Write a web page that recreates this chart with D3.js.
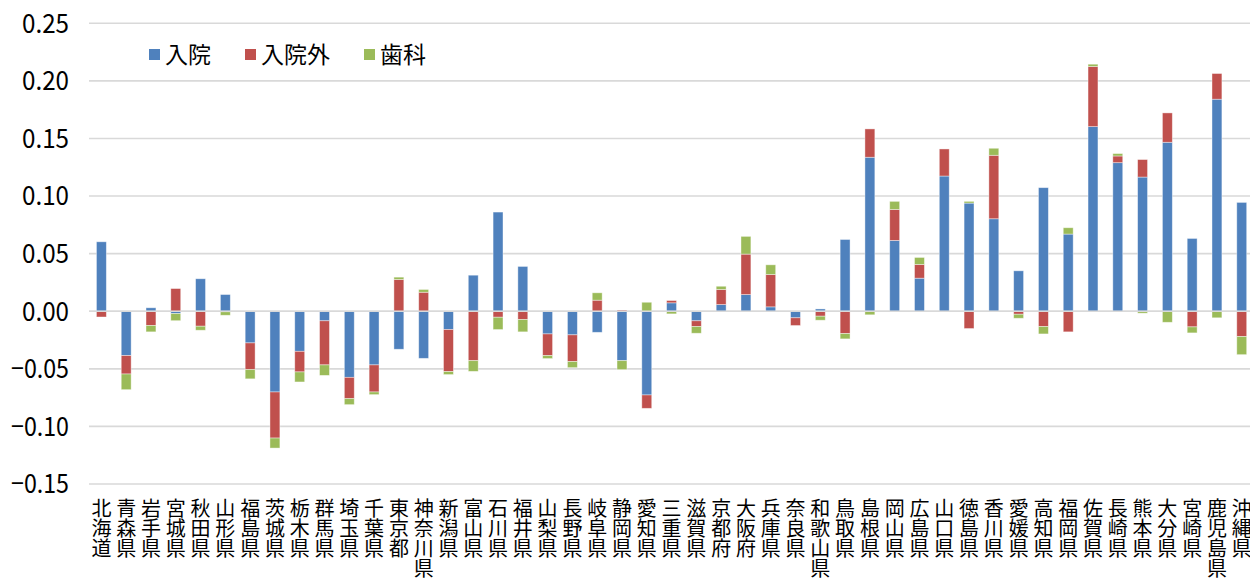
<!DOCTYPE html>
<html><head><meta charset="utf-8">
<script src="https://cdn.jsdelivr.net/npm/d3@7"></script>
<style>
html,body{margin:0;padding:0;background:#fff;overflow:hidden;}
svg{display:block;font-family:"Noto Sans CJK JP","Noto Sans",sans-serif;}
</style></head><body>
<svg id="chart" width="1250" height="579"></svg>
<script>
const prefectures = ["北海道","青森県","岩手県","宮城県","秋田県","山形県","福島県","茨城県","栃木県","群馬県","埼玉県","千葉県","東京都","神奈川県","新潟県","富山県","石川県","福井県","山梨県","長野県","岐阜県","静岡県","愛知県","三重県","滋賀県","京都府","大阪府","兵庫県","奈良県","和歌山県","鳥取県","島根県","岡山県","広島県","山口県","徳島県","香川県","愛媛県","高知県","福岡県","佐賀県","長崎県","熊本県","大分県","宮崎県","鹿児島県","沖縄県"];
const seriesNames = ["入院","入院外","歯科"];
const inpatient = [0.0603,-0.0385,0.003,-0.002,0.0282,0.0145,-0.0275,-0.0701,-0.0348,-0.0083,-0.0574,-0.0466,-0.033,-0.0409,-0.0159,0.0313,0.0861,0.0389,-0.0197,-0.0205,-0.0183,-0.0429,-0.0727,0.0073,-0.0083,0.0058,0.0145,0.0038,-0.0057,0.002,0.0623,0.1337,0.0615,0.0287,0.1174,0.0939,0.0803,0.0351,0.1073,0.067,0.1603,0.129,0.1165,0.1467,0.0632,0.1841,0.0945];
const outpatient = [-0.005,-0.016,-0.0124,0.0197,-0.013,-0.0005,-0.0232,-0.04,-0.0179,-0.0383,-0.0185,-0.0235,0.0276,0.0165,-0.0365,-0.0429,-0.0052,-0.0072,-0.0188,-0.0232,0.0096,0.001,-0.0116,0.002,-0.005,0.0131,0.0351,0.0281,-0.0067,-0.0043,-0.0194,0.0246,0.0269,0.0119,0.0235,-0.015,0.0551,-0.0026,-0.0133,-0.0179,0.0522,0.0058,0.0152,0.0255,-0.0136,0.0223,-0.022];
const dental = [0,-0.0136,-0.0055,-0.0062,-0.0035,-0.003,-0.008,-0.0087,-0.0087,-0.0091,-0.0052,-0.0023,0.002,0.0024,-0.0026,-0.0093,-0.0107,-0.0107,-0.0026,-0.0053,0.0064,-0.0078,0.0078,-0.0023,-0.0058,0.0028,0.0154,0.0084,0,-0.0035,-0.0046,-0.0031,0.007,0.0061,0,0.0015,0.0061,-0.0035,-0.0064,0.0055,0.002,0.0021,-0.0017,-0.0096,-0.0052,-0.0057,-0.0157];
const yTicks = [-0.15,-0.10,-0.05,0.00,0.05,0.10,0.15,0.20,0.25];
const colors = ["#4F81BD","#C0504D","#9BBB59"];

const rows = prefectures.map((p,i)=>({name:p,"入院":inpatient[i],"入院外":outpatient[i],"歯科":dental[i]}));

const svg = d3.select("#chart");
const left = 89, step = 24.79, right = left + step*prefectures.length;
const x = d3.scaleBand().domain(prefectures).range([left,right]).paddingInner(0.6).paddingOuter(0.3);
const y = d3.scaleLinear().domain([-0.15,0.25]).range([484,23.3]);

// grid
svg.append("g").selectAll("line").data(yTicks).join("line")
  .attr("x1",left).attr("x2",right)
  .attr("y1",d=>y(d)).attr("y2",d=>y(d))
  .attr("stroke","#d9d9d9").attr("stroke-width",1.6);

// y axis labels
const yAxis = d3.axisLeft(y).tickValues(yTicks).tickSize(0).tickPadding(20)
  .tickFormat(d=>d3.format(".2f")(d).replace("-","−"));
const ga = svg.append("g").attr("transform",`translate(${left},0)`).call(yAxis);
ga.select(".domain").remove();
ga.selectAll("text").attr("font-size",26).attr("fill","#000")
  .attr("font-family","'Noto Sans CJK JP','Noto Sans',sans-serif")
  .attr("textLength",d=>d<0?58:47).attr("lengthAdjust","spacingAndGlyphs")
  .attr("dy","0.34em");

// stacks
const stack = d3.stack().keys(seriesNames).offset(d3.stackOffsetDiverging).order(d3.stackOrderNone);
const series = stack(rows);
svg.append("g").selectAll("g").data(series).join("g")
  .attr("fill",(d,i)=>colors[i])
  .selectAll("rect").data(d=>d).join("rect")
  .attr("x",d=>x(d.data.name))
  .attr("width",x.bandwidth())
  .attr("y",d=>y(Math.max(d[0],d[1])))
  .attr("height",d=>Math.abs(y(d[0])-y(d[1])))
  .attr("stroke","rgba(255,255,255,0.5)").attr("stroke-width",0.8);

// zero line on top
svg.append("line").attr("x1",left).attr("x2",right).attr("y1",y(0)).attr("y2",y(0))
  .attr("stroke","#d9d9d9").attr("stroke-width",1.6);

// category labels (vertical, one text per label)
const cg = svg.append("g");
prefectures.forEach(p=>{
  const cx = x(p)+x.bandwidth()/2;
  const t = cg.append("text").attr("text-anchor","middle").attr("font-size",20).attr("fill","#000");
  Array.from(p).forEach((ch,k)=>{
    t.append("tspan").attr("x",cx).attr("y",516+k*20).text(ch);
  });
});

// legend
const legendX = [149,245,364];
const lg = svg.append("g");
seriesNames.forEach((s,i)=>{
  lg.append("rect").attr("x",legendX[i]).attr("y",49).attr("width",11).attr("height",11).attr("fill",colors[i]);
  lg.append("text").attr("x",legendX[i]+16).attr("y",54.5).attr("dy","0.36em")
    .attr("font-size",23).attr("fill","#000").text(s);
});
</script>
</body></html>
